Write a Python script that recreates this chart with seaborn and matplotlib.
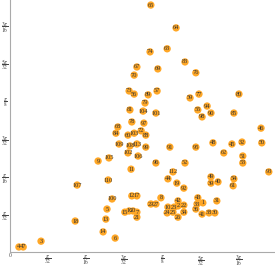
import numpy as np
import pandas as pd
import matplotlib
matplotlib.use("Agg")
import matplotlib.pyplot as plt
import seaborn as sns

# point labels and positions (radians)
labels = [1, 2, 3, 4, 5, 6, 7, 8, 9, 10, 11, 12, 13, 14, 15, 16, 17, 18, 19, 20,
          21, 22, 23, 24, 25, 26, 27, 29, 30, 31, 32, 33, 34, 36, 38, 39, 40, 41, 42, 43,
          44, 45, 46, 47, 48, 49, 50, 51, 52, 53, 54, 55, 56, 57, 59, 60, 61, 62, 63, 64,
          65, 67, 68, 69, 70, 72, 73, 74, 76, 77, 78, 79, 80, 81, 83, 84, 85, 88, 89, 90,
          91, 92, 93, 94, 95, 96, 97, 98, 99, 100, 101, 102, 103, 104, 105, 106, 107, 108, 109, 110,
          112, 113]
x_vals = [0.497, 0.433, 0.080, 0.023, 0.250, 0.271, 0.327, 0.389, 0.227, 0.407, 0.312, 0.314, 0.247, 0.240, 0.296, 0.307, 0.327, 0.168, 0.430, 0.317,
          0.327, 0.448, 0.423, 0.405, 0.420, 0.433, 0.376, 0.363, 0.528, 0.533, 0.598, 0.482, 0.448, 0.479, 0.513, 0.518, 0.536, 0.495, 0.433, 0.484,
          0.407, 0.572, 0.647, 0.034, 0.523, 0.518, 0.649, 0.600, 0.451, 0.600, 0.577, 0.484, 0.320, 0.379, 0.464, 0.304, 0.575, 0.551, 0.405, 0.428,
          0.363, 0.327, 0.278, 0.381, 0.320, 0.338, 0.307, 0.361, 0.479, 0.487, 0.314, 0.348, 0.590, 0.309, 0.451, 0.273, 0.577, 0.350, 0.356, 0.518,
          0.412, 0.448, 0.667, 0.508, 0.479, 0.376, 0.345, 0.495, 0.350, 0.263, 0.376, 0.304, 0.320, 0.343, 0.255, 0.330, 0.173, 0.309, 0.281, 0.253,
          0.420, 0.327]
y_vals = [0.127, 0.119, 0.028, 0.013, 0.111, 0.036, 0.103, 0.140, 0.235, 0.116, 0.214, 0.145, 0.085, 0.052, 0.103, 0.106, 0.145, 0.080, 0.178, 0.106,
          0.090, 0.121, 0.116, 0.101, 0.103, 0.090, 0.124, 0.124, 0.101, 0.132, 0.284, 0.124, 0.103, 0.111, 0.101, 0.178, 0.181, 0.098, 0.132, 0.140,
          0.189, 0.279, 0.320, 0.013, 0.282, 0.194, 0.282, 0.248, 0.230, 0.230, 0.189, 0.367, 0.408, 0.416, 0.398, 0.302, 0.171, 0.256, 0.525, 0.579,
          0.638, 0.478, 0.323, 0.473, 0.457, 0.313, 0.416, 0.517, 0.463, 0.408, 0.336, 0.385, 0.408, 0.367, 0.491, 0.307, 0.359, 0.302, 0.406, 0.359,
          0.271, 0.165, 0.207, 0.377, 0.271, 0.230, 0.333, 0.349, 0.271, 0.137, 0.359, 0.256, 0.307, 0.364, 0.243, 0.248, 0.173, 0.274, 0.279, 0.186,
          0.207, 0.279]

x_ticks = [np.pi / 32 * k for k in range(1, 7)]
y_ticks = [np.pi / 32 * k for k in range(1, 7)]
tick_text = [r"$\dfrac{\pi}{32}$", r"$\dfrac{\pi}{16}$", r"$\dfrac{3\pi}{32}$",
             r"$\dfrac{\pi}{8}$", r"$\dfrac{5\pi}{32}$", r"$\dfrac{3\pi}{16}$"]

df = pd.DataFrame({"label": labels, "x": x_vals, "y": y_vals})

sns.set_style("white")
plt.rcParams["font.family"] = ["Liberation Serif", "DejaVu Serif"]
plt.rcParams["mathtext.fontset"] = "stix"

fig = plt.figure(figsize=(2.75, 2.69), dpi=100)
ax = fig.add_axes([10 / 275, 17 / 269, 1 - 10 / 275, 1 - 17 / 269])

sns.scatterplot(data=df, x="x", y="y", ax=ax, s=28, color="#FFA726",
                edgecolor="none", linewidth=0, zorder=3, legend=False)
for _, r in df.iterrows():
    ax.text(r["x"], r["y"], str(int(r["label"])), fontsize=4.6, color="#333333",
            ha="center", va="center", zorder=4)

ax.set_xlim(0, 0.683)
ax.set_ylim(0, 0.651)
ax.set_xlabel("")
ax.set_ylabel("")
ax.set_xticks([0] + x_ticks)
ax.set_xticklabels(["0"] + tick_text)
ax.set_yticks(y_ticks)
ax.set_yticklabels(tick_text)

for s in ["top", "right"]:
    ax.spines[s].set_visible(False)
for s in ["left", "bottom"]:
    ax.spines[s].set_color("#aaaaaa")
    ax.spines[s].set_linewidth(0.8)
ax.tick_params(direction="in", length=3, width=0.6, color="#aaaaaa",
               labelsize=4.0, labelcolor="#444444", pad=1.2)
ax.tick_params(axis="x", pad=1.0)
ax.set_clip_on(False)

fig.savefig("out.png", dpi=100)
